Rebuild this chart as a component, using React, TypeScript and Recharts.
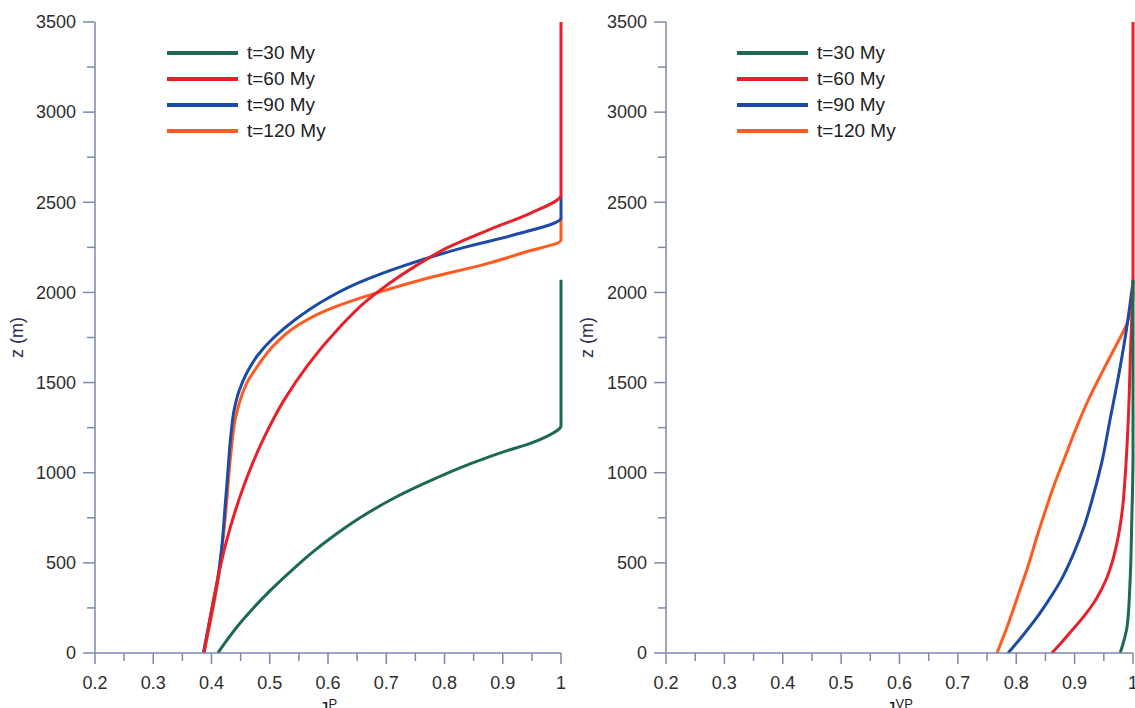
import React from "react";
import { LineChart, Line, XAxis, YAxis } from "recharts";

type Pt = { v: number; z: number };

const xTicks = [0.2, 0.25, 0.3, 0.35, 0.4, 0.45, 0.5, 0.55, 0.6, 0.65, 0.7, 0.75, 0.8, 0.85, 0.9, 0.95, 1];
const zTicks = [0, 250, 500, 750, 1000, 1250, 1500, 1750, 2000, 2250, 2500, 2750, 3000, 3250, 3500];

const seriesNames = ["t=30 My", "t=60 My", "t=90 My", "t=120 My"];
const seriesColors = ["#1d6a4e", "#e8202a", "#1c4aa6", "#ff5a1f"];

// left panel: J^P against depth
const jp30: Pt[] = [
  { v: 0.411, z: 0 }, { v: 0.424, z: 60 }, { v: 0.445, z: 150 }, { v: 0.472, z: 250 },
  { v: 0.502, z: 350 }, { v: 0.535, z: 450 }, { v: 0.57, z: 550 }, { v: 0.61, z: 650 },
  { v: 0.655, z: 750 }, { v: 0.708, z: 850 }, { v: 0.772, z: 950 }, { v: 0.845, z: 1050 },
  { v: 0.905, z: 1120 }, { v: 0.945, z: 1160 }, { v: 0.975, z: 1200 }, { v: 1.0, z: 1260 },
  { v: 1.0, z: 2070 },
];
const jp60: Pt[] = [
  { v: 0.387, z: 0 }, { v: 0.398, z: 200 }, { v: 0.41, z: 400 }, { v: 0.424, z: 600 },
  { v: 0.442, z: 800 }, { v: 0.464, z: 1000 }, { v: 0.491, z: 1200 }, { v: 0.524, z: 1400 },
  { v: 0.566, z: 1600 }, { v: 0.618, z: 1800 }, { v: 0.665, z: 1950 }, { v: 0.705, z: 2050 },
  { v: 0.752, z: 2150 }, { v: 0.806, z: 2250 }, { v: 0.878, z: 2350 }, { v: 0.948, z: 2440 },
  { v: 1.0, z: 2540 }, { v: 1.0, z: 3500 },
];
const jp90: Pt[] = [
  { v: 0.386, z: 0 }, { v: 0.398, z: 200 }, { v: 0.41, z: 400 }, { v: 0.418, z: 600 },
  { v: 0.423, z: 800 }, { v: 0.428, z: 1000 }, { v: 0.433, z: 1200 }, { v: 0.439, z: 1350 },
  { v: 0.447, z: 1450 }, { v: 0.46, z: 1550 }, { v: 0.479, z: 1650 }, { v: 0.507, z: 1750 },
  { v: 0.544, z: 1850 }, { v: 0.59, z: 1950 }, { v: 0.65, z: 2050 }, { v: 0.732, z: 2150 },
  { v: 0.834, z: 2250 }, { v: 0.92, z: 2320 }, { v: 1.0, z: 2413 }, { v: 1.0, z: 2540 },
];
const jp120: Pt[] = [
  { v: 0.387, z: 0 }, { v: 0.411, z: 400 }, { v: 0.425, z: 800 }, { v: 0.433, z: 1100 },
  { v: 0.441, z: 1300 }, { v: 0.449, z: 1400 }, { v: 0.461, z: 1500 }, { v: 0.481, z: 1600 },
  { v: 0.505, z: 1700 }, { v: 0.54, z: 1800 }, { v: 0.597, z: 1900 }, { v: 0.686, z: 2000 },
  { v: 0.772, z: 2080 }, { v: 0.873, z: 2160 }, { v: 0.935, z: 2220 }, { v: 1.0, z: 2291 },
  { v: 1.0, z: 2413 },
];

// right panel: J^VP against depth
const jvp30: Pt[] = [
  { v: 0.978, z: 0 }, { v: 0.99, z: 150 }, { v: 0.995, z: 400 }, { v: 0.998, z: 750 },
  { v: 1.0, z: 1100 }, { v: 1.0, z: 2070 },
];
const jvp60: Pt[] = [
  { v: 0.861, z: 0 }, { v: 0.878, z: 60 }, { v: 0.894, z: 120 }, { v: 0.915, z: 200 },
  { v: 0.937, z: 300 }, { v: 0.953, z: 400 }, { v: 0.964, z: 500 }, { v: 0.975, z: 650 },
  { v: 0.982, z: 800 }, { v: 0.987, z: 1000 }, { v: 0.992, z: 1300 }, { v: 0.996, z: 1700 },
  { v: 1.0, z: 2069 }, { v: 1.0, z: 3500 },
];
const jvp90: Pt[] = [
  { v: 0.786, z: 0 }, { v: 0.812, z: 100 }, { v: 0.836, z: 200 }, { v: 0.857, z: 300 },
  { v: 0.876, z: 400 }, { v: 0.898, z: 550 }, { v: 0.916, z: 700 }, { v: 0.93, z: 850 },
  { v: 0.946, z: 1050 }, { v: 0.961, z: 1300 }, { v: 0.976, z: 1550 }, { v: 0.989, z: 1800 },
  { v: 1.0, z: 2060 },
];
const jvp120: Pt[] = [
  { v: 0.767, z: 0 }, { v: 0.785, z: 150 }, { v: 0.801, z: 300 }, { v: 0.82, z: 480 },
  { v: 0.836, z: 650 }, { v: 0.851, z: 800 }, { v: 0.867, z: 950 }, { v: 0.885, z: 1100 },
  { v: 0.903, z: 1250 }, { v: 0.923, z: 1400 }, { v: 0.946, z: 1550 }, { v: 0.97, z: 1700 },
  { v: 0.99, z: 1830 }, { v: 1.0, z: 2000 },
];

const AXIS = "#7d88ac";
const TEXT = "#2e2e2e";
const FONT = "'Liberation Sans', Arial, Helvetica, sans-serif";

function XTick({ x, y, payload }: any) {
  const major = Math.round(payload.value * 100) % 10 === 0;
  return (
    <g>
      <line x1={x} y1={y} x2={x} y2={y + (major ? 11 : 8)} stroke={AXIS} strokeWidth={1.5} />
      {major && (
        <text x={x} y={y + 36} textAnchor="middle" fontSize={18} fontFamily={FONT} fill={TEXT}>
          {String(payload.value)}
        </text>
      )}
    </g>
  );
}

function YTick({ x, y, payload }: any) {
  const major = payload.value % 500 === 0;
  return (
    <g>
      <line x1={x - (major ? 12 : 8)} y1={y} x2={x} y2={y} stroke={AXIS} strokeWidth={1.5} />
      {major && (
        <text x={x - 19} y={y} dy="0.35em" textAnchor="end" fontSize={18} fontFamily={FONT} fill={TEXT}>
          {payload.value}
        </text>
      )}
    </g>
  );
}

// the axis title sits low, the bottom edge of the figure cuts it like in the source
function XTitle({ viewBox, sup }: any) {
  const cx = viewBox.x + viewBox.width / 2;
  return (
    <text x={cx} y={viewBox.y + 62} textAnchor="middle" fontSize={19} fontFamily={FONT} fill="#222">
      J<tspan fontSize={13} dy={-7}>{sup}</tspan>
    </text>
  );
}

function YTitle({ viewBox }: any) {
  const cx = viewBox.x + 17;
  const cy = viewBox.y + viewBox.height / 2;
  return (
    <text x={cx} y={cy} transform={`rotate(-90, ${cx}, ${cy})`} dy="0.35em" textAnchor="middle"
      fontSize={18} fontFamily={FONT} fill="#2a2a55">
      z (m)
    </text>
  );
}

function LegendBox() {
  return (
    <div style={{ position: "absolute", left: 167, top: 40, fontFamily: FONT, fontSize: 19, color: "#222" }}>
      {seriesNames.map((n, i) => (
        <div key={n} style={{ display: "flex", alignItems: "center", height: 26 }}>
          <span style={{ display: "inline-block", width: 71, height: 4, background: seriesColors[i], marginRight: 9 }} />
          <span>{n}</span>
        </div>
      ))}
    </div>
  );
}

interface PanelProps {
  left: number;
  width: number;
  axisWidth: number;
  rightGap: number;
  sup: string;
  lines: { data: Pt[]; color: string; name: string }[];
}

function Panel({ left, width, axisWidth, rightGap, sup, lines }: PanelProps) {
  return (
    <div style={{ position: "absolute", left, top: 0, width, height: 708 }}>
      <LineChart width={width} height={708} margin={{ top: 22, right: rightGap, bottom: 0, left: 0 }}>
        <XAxis type="number" dataKey="v" domain={[0.2, 1]} ticks={xTicks} interval={0}
          tick={<XTick />} tickLine={false} tickSize={0} tickMargin={0} height={55}
          axisLine={{ stroke: AXIS, strokeWidth: 1.5 }} label={<XTitle sup={sup} />} />
        <YAxis type="number" domain={[0, 3500]} ticks={zTicks} interval={0}
          tick={<YTick />} tickLine={false} tickSize={0} tickMargin={0} width={axisWidth}
          axisLine={{ stroke: AXIS, strokeWidth: 1.5 }} label={<YTitle />} />
        {lines.map((l) => (
          <Line key={l.name} name={l.name} data={l.data} dataKey="z" type="monotoneY" stroke={l.color}
            strokeWidth={3} dot={false} activeDot={false} isAnimationActive={false} />
        ))}
      </LineChart>
      <LegendBox />
    </div>
  );
}

export default function App() {
  // draw order chosen so overlaps look like the figure
  const leftLines = [
    { data: jp30, color: seriesColors[0], name: seriesNames[0] },
    { data: jp120, color: seriesColors[3], name: seriesNames[3] },
    { data: jp90, color: seriesColors[2], name: seriesNames[2] },
    { data: jp60, color: seriesColors[1], name: seriesNames[1] },
  ];
  const rightLines = [
    { data: jvp120, color: seriesColors[3], name: seriesNames[3] },
    { data: jvp90, color: seriesColors[2], name: seriesNames[2] },
    { data: jvp60, color: seriesColors[1], name: seriesNames[1] },
    { data: jvp30, color: seriesColors[0], name: seriesNames[0] },
  ];
  return (
    <div style={{ position: "absolute", left: 0, top: 0, width: 1135, height: 708, background: "#fff", overflow: "hidden" }}>
      <Panel left={0} width={570} axisWidth={95} rightGap={9} sup="P" lines={leftLines} />
      <Panel left={570} width={565} axisWidth={96} rightGap={2} sup="VP" lines={rightLines} />
    </div>
  );
}
